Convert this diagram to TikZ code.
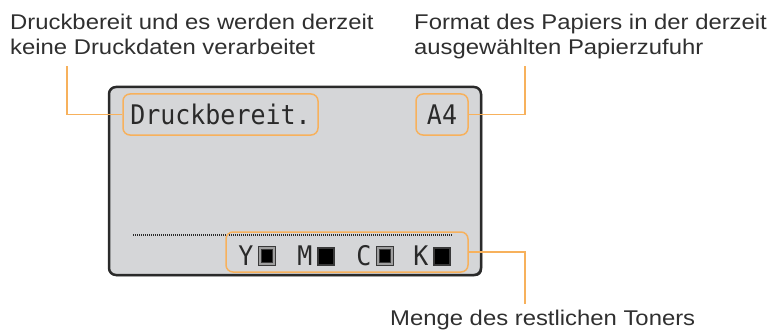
\documentclass[tikz,border=0pt]{standalone}
\usepackage{fontspec}
\setmainfont{Liberation Sans}
\newfontfamily\notefont[FakeStretch=1.12]{Liberation Sans}
\newfontfamily\lcdfont[FakeStretch=0.925]{DejaVu Sans Mono}
\usetikzlibrary{shadows}

\definecolor{hilite}{HTML}{F7B15C}
\definecolor{lcdgray}{HTML}{D5D6D8}
\definecolor{lcdframe}{HTML}{2A2A2A}
\definecolor{notegray}{HTML}{2F2F2F}

\tikzset{
  note/.style={font=\notefont\fontsize{21.3}{25}\selectfont, text=notegray, inner sep=0pt, align=left},
  lcdtext/.style={font=\lcdfont\fontsize{27}{27}\selectfont, text=lcdframe, inner sep=0pt},
  screen/.style={draw=lcdframe, fill=lcdgray, line width=2.5pt, rounded corners=7pt,
    drop shadow={shadow xshift=1.2pt, shadow yshift=-1.2pt, fill=lcdframe, opacity=1}},
  hibox/.style={draw=hilite, line width=1.5pt, rounded corners=7pt, inner sep=0pt},
  leader/.style={draw=hilite, line width=1.5pt},
  dotline/.style={draw=lcdframe, line width=1.3pt, dash pattern=on 1pt off 1pt},
  gauge/.style={draw=gray!45!black, fill=black, line width=2pt, minimum width=16pt, minimum height=17pt, inner sep=0pt},
  gaugeringed/.style={gauge, line width=1.2pt, double=gray!75, double distance=1.6pt, minimum width=14pt, minimum height=15.5pt}
}

\begin{document}
\begin{tikzpicture}[x=1pt, y=1pt]
  \useasboundingbox (0,0) rectangle (770,-334);

  % display
  \node[screen, minimum width=372pt, minimum height=188pt] (lcd) at (295,-181) {};
  \draw[dotline] (133,-235) -- (453,-235);

  \node[hibox, lcdtext, minimum width=195pt, minimum height=41pt] (ready) at (220.5,-114.5) {Druckbereit.};
  \node[hibox, lcdtext, minimum width=52pt, minimum height=41pt] (paper) at (442,-114.5) {A4};

  % toner row
  \foreach \col/\x/\look in {Y/246/gaugeringed, M/305/gauge, C/364/gaugeringed, K/421/gauge} {
    \node[lcdtext, anchor=base] (lvl\col) at (\x,-265) {\col};
    \node[\look] (gauge\col) at (\x+21,-256) {};
  }
  \node[hibox, minimum width=242pt, minimum height=40pt] (toner) at (347,-252) {};

  % notes
  \node[note, anchor=base west] (readynote) at (10,-55) {Druckbereit und es werden derzeit\\keine Druckdaten verarbeitet};
  \node[note, anchor=base west] (papernote) at (414,-55) {Format des Papiers in der derzeit\\ausgewählten Papierzufuhr};
  \node[note, anchor=base west] (tonernote) at (390,-325) {Menge des restlichen Toners};

  % leaders
  \coordinate (readytip) at (67,-66);
  \coordinate (papertip) at (525,-66);
  \coordinate (tonertip) at (525,-304);
  \draw[leader] (ready.west) -| (readytip);
  \draw[leader] (paper.east) -| (papertip);
  \draw[leader] (toner.east) -| (tonertip);
\end{tikzpicture}
\end{document}
